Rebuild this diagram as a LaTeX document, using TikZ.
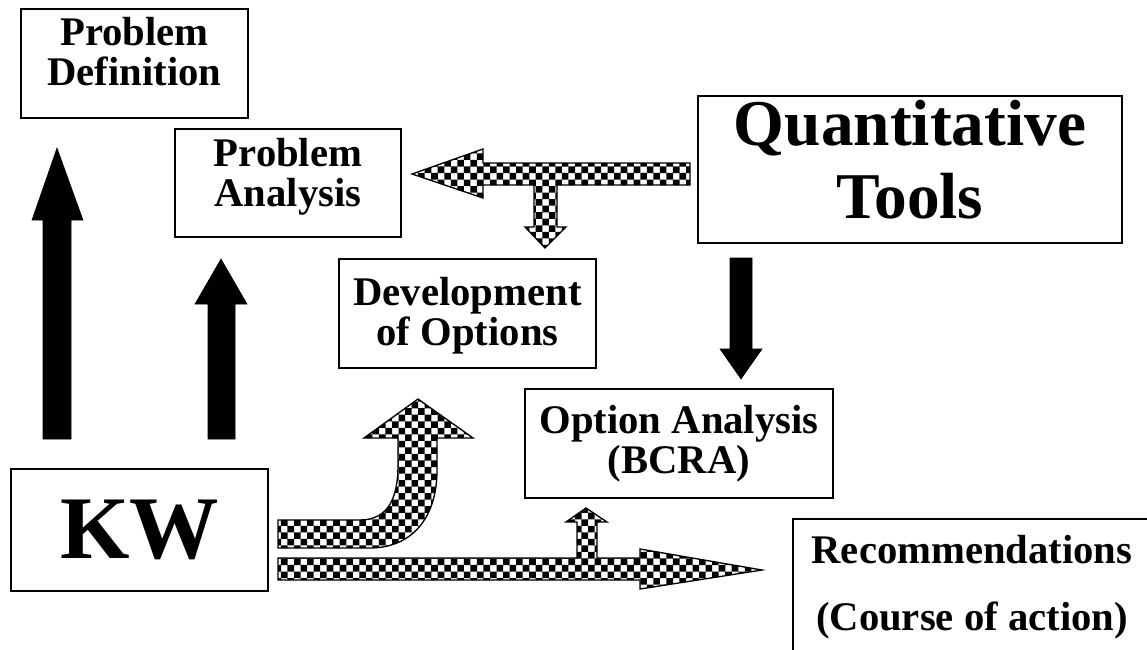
\documentclass[tikz,border=0pt]{standalone}
\usepackage{fontspec}
\setmainfont{Liberation Serif}
\usetikzlibrary{patterns}
\pgfdeclarepatternformonly{chk}{\pgfqpoint{-1pt}{-1pt}}{\pgfqpoint{10.8pt}{10.8pt}}{\pgfqpoint{9.8pt}{9.8pt}}{%
  \pgfpathrectangle{\pgfqpoint{0pt}{0pt}}{\pgfqpoint{4.95pt}{4.95pt}}%
  \pgfpathrectangle{\pgfqpoint{4.9pt}{4.9pt}}{\pgfqpoint{4.95pt}{4.95pt}}%
  \pgfusepath{fill}}
\begin{document}
\begin{tikzpicture}[x=0.75pt,y=-0.75pt,
  frame/.style={draw, line width=1pt, inner sep=0pt},
  txt/.style={inner sep=0pt, align=center, font=\bfseries\fontsize{30.5}{30}\selectfont},
  bigtxt/.style={inner sep=0pt, align=center, font=\bfseries\fontsize{49}{55}\selectfont},
  solidarrow/.style={fill=black, draw=black, line width=0.4pt},
  checkarrow/.style={draw=black, line width=1pt, pattern=chk}]
\useasboundingbox (0,0) rectangle (1147,650);
\fill[white] (0,0) rectangle (1147,650);

% boxes
\node[frame, minimum width=170.25pt, minimum height=81.75pt] (pd) at (134.5,63.5) {};
\node[txt] (pdt) at (134.5,52) {Problem\\Definition};
\node[frame, minimum width=169.5pt, minimum height=81pt] (pa) at (288,183) {};
\node[txt] (pat) at (288,177) {Problem\\Analysis};
\node[frame, minimum width=318pt, minimum height=110.25pt] (qt) at (910,169.5) {};
\node[bigtxt] (qtt) at (910,159.5) {Quantitative\\Tools};
\node[frame, minimum width=192.75pt, minimum height=81.75pt] (do) at (467.5,313.5) {};
\node[txt] (dot) at (467.5,316) {Development\\of Options};
\node[frame, minimum width=231pt, minimum height=81.75pt] (oa) at (679,443.5) {};
\node[txt] (oat) at (679,444) {Option Analysis\\(BCRA)};
\node[frame, minimum width=192.75pt, minimum height=91.5pt,
  font=\bfseries\fontsize{67}{70}\selectfont] (kw) at (139.5,530) {KW};
\node[txt, font=\bfseries\fontsize{30.5}{50}\selectfont] (rc) at (972,587) {Recommendations\\(Course of action)};
\coordinate (rcb) at (793,650);
\coordinate (rcr) at (1147,519);
\draw[line width=1pt] (rcb) |- (rcr);

% solid arrows
\path[solidarrow] (43,439) -- (43,220) -- (32,220) -- (57,148) -- (83,220) -- (71,220) -- (71,439) -- cycle;
\path[solidarrow] (208,439) -- (208,304) -- (195,304) -- (221,259) -- (247,304) -- (235,304) -- (235,439) -- cycle;
\path[solidarrow] (730,258) -- (752,258) -- (752,349) -- (762,349) -- (741,379) -- (720,349) -- (730,349) -- cycle;

% checkered arrows
\path[checkarrow] (690,163) -- (483,163) -- (483,149) -- (412,174) -- (483,198) -- (483,185)
  -- (534,185) -- (534,227) -- (525,227) -- (545,248) -- (566,227) -- (557,227) -- (557,185)
  -- (690,185) -- cycle;
\path[checkarrow] (278,520) -- (360,520) .. controls (390,520) and (398,495) .. (398,465)
  -- (398,438) -- (364,438) -- (418,399) -- (473,438) -- (437,438) -- (437,470)
  .. controls (437,520) and (410,548) .. (370,548) -- (278,548) -- cycle;
\path[checkarrow] (278,558) -- (577,558) -- (577,522) -- (566,522) -- (586,508) -- (607,522)
  -- (597,522) -- (597,558) -- (640,558) -- (640,549) -- (762,570) -- (640,589) -- (640,580)
  -- (278,580) -- cycle;
\end{tikzpicture}
\end{document}
